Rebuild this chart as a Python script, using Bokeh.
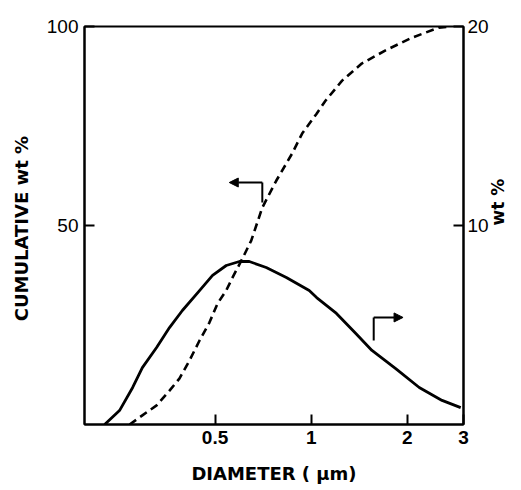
import math
from bokeh.plotting import figure
from bokeh.models import LogAxis, LinearAxis, Range1d, FixedTicker, Arrow, NormalHead, LogScale
from bokeh.embed import file_html
from bokeh.resources import INLINE

# wt% distribution (right axis, 0-20)
dist_d = [0.2255, 0.251, 0.276, 0.296, 0.328, 0.360, 0.395, 0.447, 0.491, 0.542, 0.596, 0.640, 0.723, 0.836,
          0.986, 1.04, 1.20, 1.38, 1.55, 1.84, 2.18, 2.57, 2.94]
dist_w = [0.0, 0.70, 1.86, 2.86, 3.87, 4.87, 5.73, 6.73, 7.49, 7.99, 8.19, 8.19, 7.89, 7.39,
          6.73, 6.38, 5.58, 4.57, 3.72, 2.81, 1.86, 1.21, 0.85]

# cumulative wt% (left axis, 0-100)
cum_d = [0.270, 0.296, 0.328, 0.360, 0.387, 0.416, 0.447, 0.480, 0.509, 0.542, 0.567, 0.609, 0.649, 0.703,
         0.778, 0.872, 0.937, 1.04, 1.11, 1.25, 1.44, 1.71, 2.07, 2.51, 2.73]
cum_w = [0.0, 2.3, 4.8, 8.5, 11.6, 16.1, 21.1, 25.6, 30.4, 33.7, 36.9, 41.7, 46.2, 54.5,
         61.3, 68.1, 73.1, 78.1, 81.4, 86.4, 90.7, 94.0, 97.2, 99.7, 100.0]

x_ticks = [0.5, 1, 2, 3]
x_tick_labels = ["0.5", "1", "2", "3"]
left_ticks = [50, 100]
right_ticks = [10, 20]

x_title = "DIAMETER ( μm)"
left_title = "CUMULATIVE  wt %"
right_title = "wt %"

# pointer annotations (data coords, left-axis scale)
left_ptr = dict(xv=0.703, y0=55.8, y1=60.8, xa=0.554)
right_ptr = dict(xv=1.57, y0=21.1, y1=26.9, xa=1.94)

FONT = "Liberation Sans"
TFONT = "DejaVu Sans"

p = figure(width=521, height=490, output_backend="svg", toolbar_location=None,
           x_axis_type=None, y_axis_type=None,
           x_range=Range1d(0.195, 3.0), y_range=Range1d(0, 100),
           min_border_left=84, min_border_right=58, min_border_top=26, min_border_bottom=66)
p.x_scale = LogScale()
p.grid.visible = False
p.outline_line_color = "black"
p.outline_line_width = 2
p.background_fill_color = "white"
p.border_fill_color = "white"
p.extra_y_ranges = {"wt": Range1d(0, 20)}

def style(ax, bold_ticks=False):
    ax.major_tick_in = 10
    ax.major_tick_out = 0
    ax.minor_tick_line_color = None
    ax.axis_line_color = "black"
    ax.axis_line_width = 2
    ax.major_tick_line_color = "black"
    ax.major_tick_line_width = 2
    ax.major_label_text_font = FONT
    ax.major_label_text_font_size = "19px"
    ax.major_label_text_color = "black"
    ax.major_label_text_font_style = "bold" if bold_ticks else "normal"
    ax.axis_label_text_font = TFONT
    ax.axis_label_text_font_style = "bold"
    ax.axis_label_text_font_size = "18px"
    ax.axis_label_text_color = "black"

xax = LogAxis(ticker=FixedTicker(ticks=x_ticks), axis_label=x_title)
xax.major_label_overrides = {t: l for t, l in zip(x_ticks, x_tick_labels)}
style(xax, bold_ticks=True)
xax.major_label_standoff = 6
xax.axis_label_standoff = 16
p.add_layout(xax, "below")

lax = LinearAxis(ticker=FixedTicker(ticks=left_ticks), axis_label=left_title)
style(lax)
lax.major_label_standoff = 6
lax.axis_label_standoff = 12
p.add_layout(lax, "left")

rax = LinearAxis(y_range_name="wt", ticker=FixedTicker(ticks=right_ticks), axis_label=right_title)
style(rax)
rax.axis_label_text_font_size = "17px"
rax.major_label_standoff = 4
rax.axis_label_standoff = 6
try:
    rax.axis_label_orientation = math.pi / 2
except Exception:
    pass
p.add_layout(rax, "right")

p.line(cum_d, cum_w, line_color="black", line_width=2.6, line_dash="8 5")
p.line(dist_d, dist_w, line_color="black", line_width=2.8, y_range_name="wt")

# pointers
p.segment(x0=[left_ptr["xv"], right_ptr["xv"]], y0=[left_ptr["y0"], right_ptr["y0"]],
          x1=[left_ptr["xv"], right_ptr["xv"]], y1=[left_ptr["y1"], right_ptr["y1"]],
          line_color="black", line_width=2)
for ptr in (left_ptr, right_ptr):
    p.add_layout(Arrow(end=NormalHead(size=9, fill_color="black", line_color="black"),
                       x_start=ptr["xv"], y_start=ptr["y1"], x_end=ptr["xa"], y_end=ptr["y1"],
                       line_color="black", line_width=2))

open("out.html", "w").write(file_html(p, INLINE))
